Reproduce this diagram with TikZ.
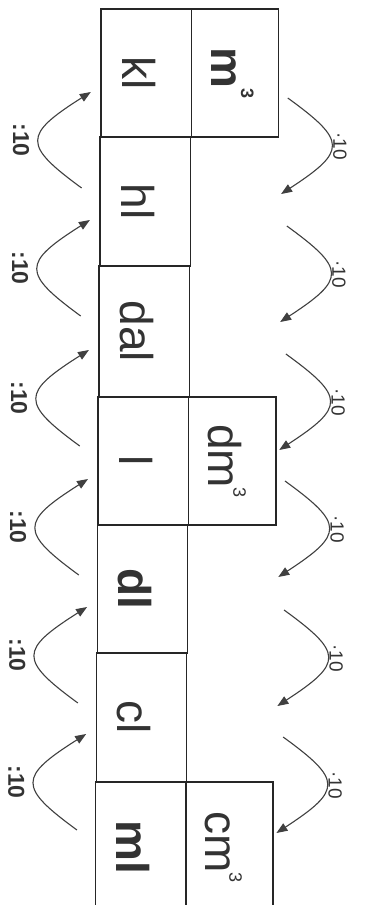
\documentclass[tikz,border=0pt]{standalone}
\usepackage{fontspec}
\setmainfont{Liberation Sans}
\usetikzlibrary{arrows.meta}
\begin{document}
\begin{tikzpicture}[x=1pt,y={(-0.0073pt,-1pt)},
  cell/.style={draw=black!85, line width=1.4pt, rotate=-90, inner sep=0pt,
    text height=48pt, text depth=0pt, font=\fontsize{46}{48}\selectfont, text=black!80},
  lcell/.style={cell, minimum height=90.5pt},
  rcell/.style={cell, minimum height=87.3pt},
  arc/.style={draw=black!75, line width=1.1pt, -{Triangle[length=11pt,width=8.5pt]}},
  divlab/.style={rotate=-90, font=\bfseries\fontsize{23}{23}\selectfont, text=black!80, inner sep=0pt},
  mullab/.style={rotate=-90, font=\fontsize{19}{19}\selectfont, text=black!80, inner sep=0pt}
]
\useasboundingbox (0pt,0pt) rectangle (369pt,-905pt);
\clip (0pt,0pt) rectangle (369pt,-905pt);
\fill[white] (0pt,0pt) rectangle (369pt,-905pt);
\newcommand{\supthree}[1]{\raisebox{#1}{\fontsize{18}{18}\selectfont 3}}
% left column
\node[lcell, minimum width=128pt] (kl)  at (146.75,73)    {kl};
\node[lcell, minimum width=129pt] (hl)  at (146.75,201.5) {hl};
\node[lcell, minimum width=131pt] (dal) at (146.75,331.5) {dal};
\node[lcell, minimum width=128pt] (l)   at (146.75,461)   {l};
\node[lcell, minimum width=128pt] (dl)  at (146.75,589)   {\bfseries dl};
\node[lcell, minimum width=129pt] (cl)  at (146.75,717.5) {cl};
\node[lcell, minimum width=130pt] (ml)  at (146.75,847)   {\bfseries ml};
% right column
\node[rcell, minimum width=128pt] (m3)  at (235.65,73)  {\bfseries m\supthree{30pt}};
\node[rcell, minimum width=128pt] (dm3) at (235.65,461) {dm\supthree{25pt}};
\node[rcell, minimum width=130pt] (cm3) at (235.65,847) {cm\supthree{24pt}};
% left arcs (division)
\foreach \c [count=\i] in {140,268,398,527,655,782}{
  \coordinate (ls\i) at (83,{\c+48});
  \coordinate (le\i) at (91.5,{\c-48});
  \draw[arc] (ls\i) .. controls (24,{\c+5}) and (24,{\c-5}) .. (le\i);
  \node[divlab] (dl\i) at (22,\c) {:10};
}
% right arcs (multiplication)
\foreach \c [count=\i] in {146,274,402,529,658,785}{
  \coordinate (rs\i) at (288.5,{\c-48});
  \coordinate (re\i) at (282.5,{\c+48});
  \draw[arc] (rs\i) .. controls (348,{\c-5}) and (348,{\c+5}) .. (re\i);
  \node[mullab] (ml\i) at (341,\c) {·10};
}
\end{tikzpicture}
\end{document}
